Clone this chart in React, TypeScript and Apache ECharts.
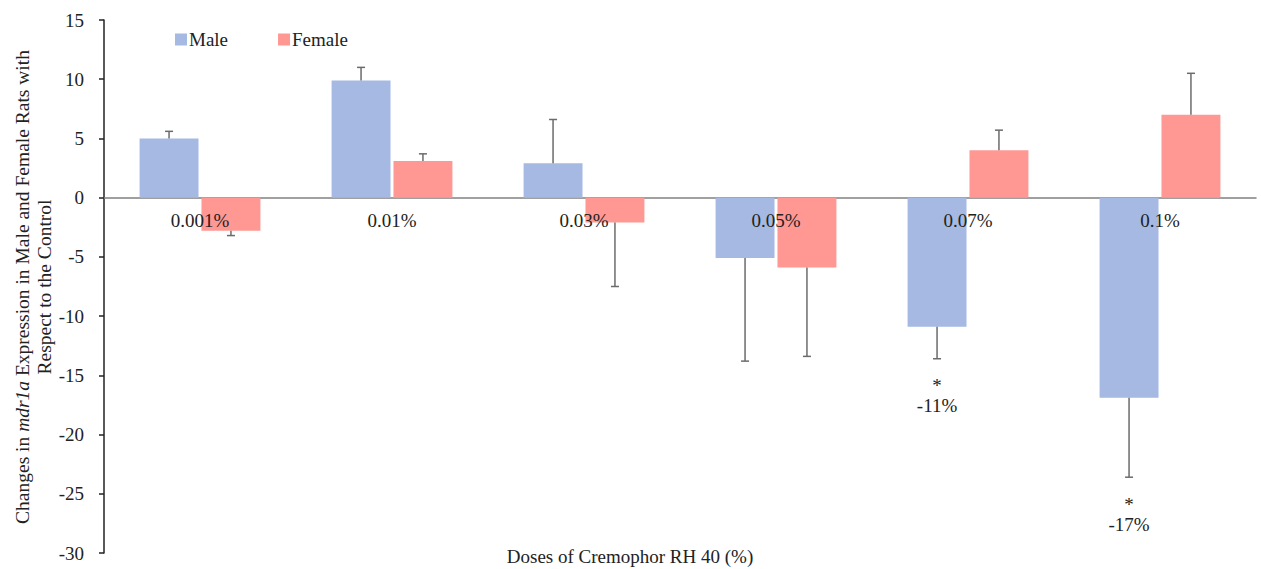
import React, { useEffect, useRef } from "react";
import * as echarts from "echarts";

const categories = ["0.001%", "0.01%", "0.03%", "0.05%", "0.07%", "0.1%"];
const maleValues = [5.0, 9.9, 2.9, -5.1, -10.9, -16.9];
const maleErrors = [0.6, 1.1, 3.7, 8.7, 2.7, 6.7];
const femaleValues = [-2.8, 3.1, -2.1, -5.9, 4.0, 7.0];
const femaleErrors = [0.4, 0.6, 5.4, 7.5, 1.7, 3.5];
const maleStars = ["", "", "", "", "*", "*"];
const maleNotes = ["", "", "", "", "-11%", "-17%"];
const femaleStars = ["", "", "", "", "", ""];
const femaleNotes = ["", "", "", "", "", ""];
const yTicks = { min: -30, max: 15, interval: 5 };

const MALE_COLOR = "#A5B9E2";
const FEMALE_COLOR = "#FF9793";
const FONT = "'Liberation Serif', 'Times New Roman', serif";
const BAR_RATIO = 0.307;
const GAP_RATIO = 0.05;

function errorSeries(name: string, values: number[], errors: number[], stars: string[], notes: string[], side: number) {
  return {
    type: "custom",
    name,
    z: 5,
    data: values.map((v, i) => [i, v, errors[i]]),
    renderItem: (params: any, api: any) => {
      const cat = api.value(0);
      const v = api.value(1);
      const e = api.value(2);
      const bandW = api.size([1, 0])[0];
      const bw = bandW * BAR_RATIO;
      const offset = (side * (bw * (1 + GAP_RATIO))) / 2;
      const dir = v >= 0 ? 1 : -1;
      const s = api.coord([cat, v]);
      const en = api.coord([cat, v + dir * e]);
      const x = s[0] + offset;
      const style = { stroke: "#6b6b6b", lineWidth: 1.5 };
      const children: any[] = [
        { type: "line", shape: { x1: x, y1: s[1], x2: x, y2: en[1] }, style },
        { type: "line", shape: { x1: x - 4, y1: en[1], x2: x + 4, y2: en[1] }, style },
      ];
      const idx = params.dataIndex;
      if (stars[idx]) {
        children.push({
          type: "text",
          x,
          y: en[1] + 27,
          style: { text: stars[idx], fontFamily: FONT, fontSize: 19, fill: "#222", align: "center", verticalAlign: "middle" },
        });
      }
      if (notes[idx]) {
        children.push({
          type: "text",
          x,
          y: en[1] + 47,
          style: { text: notes[idx], fontFamily: FONT, fontSize: 19, fill: "#222", align: "center", verticalAlign: "middle" },
        });
      }
      return { type: "group", children };
    },
  };
}

const categoryLabelSeries = {
  type: "custom",
  name: "CategoryLabels",
  z: 6,
  silent: true,
  data: categories.map((c, i) => [i, 0]),
  renderItem: (params: any, api: any) => {
    const p = api.coord([api.value(0), 0]);
    return {
      type: "text",
      x: p[0],
      y: p[1] + 23,
      style: {
        text: categories[params.dataIndex],
        fontFamily: FONT,
        fontSize: 19,
        fill: "#222",
        align: "center",
        verticalAlign: "middle",
      },
    };
  },
};

export default function App() {
  const ref = useRef<HTMLDivElement>(null);
  useEffect(() => {
    if (!ref.current) return;
    const chart = echarts.init(ref.current, null, { renderer: "svg" });
    chart.setOption({
      animation: false,
      backgroundColor: "#fff",
      grid: { left: 104, right: 5, top: 20, bottom: 16, containLabel: false, outerBoundsMode: "none" },
      legend: {
        data: ["Male", "Female"],
        left: 170,
        top: 25,
        icon: "rect",
        itemWidth: 12,
        itemHeight: 12,
        itemGap: 50,
        textStyle: { fontFamily: FONT, fontSize: 19, color: "#222", padding: [0, 0, 0, -3] },
      },
      xAxis: {
        type: "category",
        data: categories,
        axisLine: { onZero: true, lineStyle: { color: "#808080", width: 1.5 } },
        axisTick: { show: false },
        axisLabel: { show: false },
        splitLine: { show: false },
      },
      yAxis: {
        type: "value",
        min: yTicks.min,
        max: yTicks.max,
        interval: yTicks.interval,
        axisLine: { show: true, onZero: false, lineStyle: { color: "#222", width: 1.5 } },
        axisTick: { show: true, inside: false, length: 5, lineStyle: { color: "#222", width: 1.5 } },
        axisLabel: { fontFamily: FONT, fontSize: 19, color: "#222", margin: 20 },
        splitLine: { show: false },
      },
      series: [
        {
          type: "bar",
          name: "Male",
          data: maleValues,
          itemStyle: { color: MALE_COLOR },
          barWidth: BAR_RATIO * 100 + "%",
          barGap: GAP_RATIO * 100 + "%",
        },
        {
          type: "bar",
          name: "Female",
          data: femaleValues,
          itemStyle: { color: FEMALE_COLOR },
          barWidth: BAR_RATIO * 100 + "%",
          barGap: GAP_RATIO * 100 + "%",
        },
        errorSeries("MaleErr", maleValues, maleErrors, maleStars, maleNotes, -1),
        errorSeries("FemaleErr", femaleValues, femaleErrors, femaleStars, femaleNotes, 1),
        categoryLabelSeries,
      ],
      graphic: [
        {
          type: "text",
          x: 33,
          y: 287,
          rotation: Math.PI / 2,
          style: {
            text: "Changes in {i|mdr1a} Expression in Male and Female Rats with\nRespect to the Control",
            fontFamily: FONT,
            fontSize: 19.5,
            lineHeight: 22,
            fill: "#222",
            align: "center",
            verticalAlign: "middle",
            rich: {
              i: { fontStyle: "italic", fontFamily: FONT, fontSize: 19.5, fill: "#222" },
            },
          },
        },
        {
          type: "text",
          x: 630,
          y: 556,
          style: {
            text: "Doses of Cremophor RH 40 (%)",
            fontFamily: FONT,
            fontSize: 19,
            fill: "#222",
            align: "center",
            verticalAlign: "middle",
          },
        },
      ],
    });
    return () => chart.dispose();
  }, []);
  return (
    <div
      ref={ref}
      style={{ position: "fixed", left: 0, top: 0, width: 1261, height: 569, background: "#fff" }}
    />
  );
}
